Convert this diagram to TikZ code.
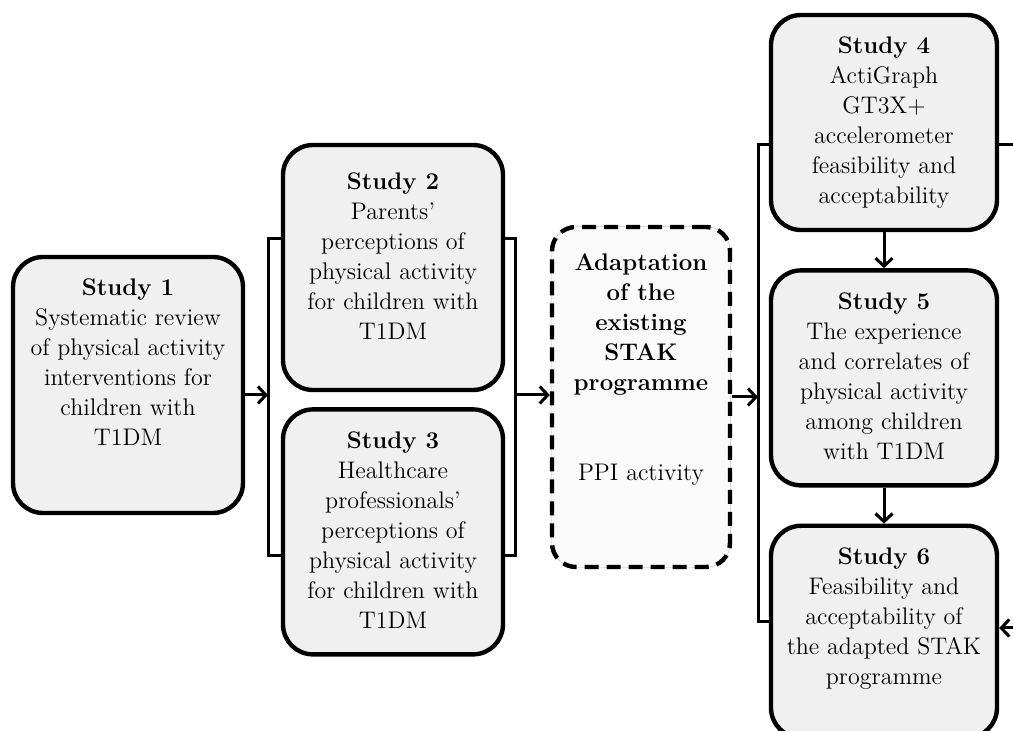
\documentclass[tikz,border=0pt]{standalone}
\usepackage{fontspec}
\usetikzlibrary{arrows.meta, graphs, positioning}

\definecolor{box fill}{RGB}{240,240,240}
\definecolor{plan fill}{RGB}{250,250,250}
\newcommand{\boxtext}[3]{\parbox[c][#2][t]{#1}{\centering\vspace*{11pt}#3}}

\begin{document}
\begin{tikzpicture}[x=0.5pt, y=-0.5pt, node distance=18pt,
    font=\fontsize{12}{15}\selectfont,
    study/.style={draw, line width=2.2pt, rounded corners=15pt, fill=box fill, inner sep=0pt},
    plan/.style={draw, line width=2.2pt, dash pattern=on 7pt off 4pt, rounded corners=12pt,
        fill=plan fill, inner sep=0pt, preaction={draw=gray!60, solid, line width=0.5pt}},
    link/.style={line width=1.5pt},
    >={Straight Barb[length=4pt, width=8.5pt]}]
    \useasboundingbox (0,0) rectangle (1013,731);
    \clip (0,0) rectangle (1013,731);

    \node[study]                        (Study 1)    at (128,385)   {\boxtext{115pt}{128pt}{\textbf{Study 1}\\Systematic review\\of physical activity\\interventions for\\children with\\T1DM}};
    \node[study]                        (Study 2)    at (393,267.5) {\boxtext{110pt}{122.5pt}{\vspace*{3pt}\textbf{Study 2}\\Parents'\\perceptions of\\physical activity\\for children with\\T1DM}};
    \node[study, below=7.5pt of Study 2] (Study 3)                  {\boxtext{110pt}{122.5pt}{\textbf{Study 3}\\Healthcare\\professionals'\\perceptions of\\physical activity\\for children with\\T1DM}};
    \node[plan]                         (Adaptation) at (641,397)   {\boxtext{89pt}{170pt}{\vspace*{2.5pt}\textbf{Adaptation\\of the\\existing\\STAK\\programme}\\[30pt]PPI activity}};
    \node[study]                        (Study 4)    at (884,122.5) {\boxtext{113pt}{107.5pt}{\textbf{Study 4}\\ActiGraph\\GT3X+\\accelerometer\\feasibility and\\acceptability}};
    \node[study, below=of Study 4]      (Study 5)                   {\boxtext{113pt}{107.5pt}{\textbf{Study 5}\\The experience\\and correlates of\\physical activity\\among children\\with T1DM}};
    \node[study, below=of Study 5]      (Study 6)                   {\boxtext{113pt}{106pt}{\textbf{Study 6}\\Feasibility and\\acceptability of\\the adapted STAK\\programme}};

    \coordinate (Fork 1) at (268,395);
    \coordinate (Fork 2) at (515,395);
    \coordinate (Fork 3) at (758,397);
    \coordinate (Back Top) at (1030,145);
    \coordinate (Back Bottom) at (1030,628);

    \draw[link, ->] (Study 1.east |- Fork 1) -- (Fork 1);
    \draw[link] ([yshift=14.25pt]Study 2.west) -| (Fork 1) |- ([yshift=-11.75pt]Study 3.west);
    \draw[link] ([yshift=14.25pt]Study 2.east) -| (Fork 2) |- ([yshift=-11.75pt]Study 3.east);
    \draw[link, ->] (Fork 2) -- (Adaptation.west |- Fork 2);
    \draw[link, ->] (Adaptation.east |- Fork 3) -- (Fork 3);
    \draw[link] ([yshift=-11.25pt]Study 4.west) -| (Fork 3) |- ([yshift=5pt]Study 6.west);
    \draw[link] ([yshift=-11.25pt]Study 4.east) -- (Back Top);
    \draw[link, ->] (Back Bottom) -- (Study 6.east |- Back Bottom);

    \graph[edges={link}]{
        (Study 4) -> (Study 5) -> (Study 6);
    };
\end{tikzpicture}
\end{document}
